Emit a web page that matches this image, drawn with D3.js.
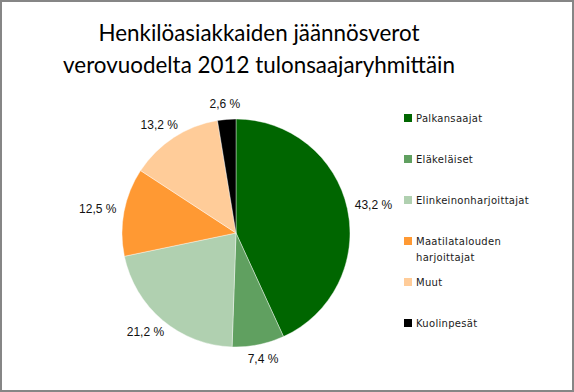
<!DOCTYPE html>
<html>
<head>
<meta charset="utf-8">
<script src="https://cdn.jsdelivr.net/npm/d3@7"></script>
<style>
body { margin: 0; background: #fff; }
svg { display: block; }
</style>
</head>
<body>
<div id="main"></div>
<script>
var categories = ['Palkansaajat', 'Eläkeläiset', 'Elinkeinonharjoittajat',
    'Maatilatalouden harjoittajat', 'Muut', 'Kuolinpesät'];
var values = [43.2, 7.4, 21.2, 12.5, 13.2, 2.6];
var labels = ['43,2 %', '7,4 %', '21,2 %', '12,5 %', '13,2 %', '2,6 %'];
var legendLines = [['Palkansaajat'], ['Eläkeläiset'], ['Elinkeinonharjoittajat'],
    ['Maatilatalouden', 'harjoittajat'], ['Muut'], ['Kuolinpesät']];
var colors = ['#006600', '#60a060', '#b0d0b0', '#ff9933', '#ffcc99', '#000000'];
var titleLines = ['Henkilöasiakkaiden jäännösverot', 'verovuodelta 2012 tulonsaajaryhmittäin'];

var width = 574, height = 392;
var svg = d3.select('#main').append('svg')
    .attr('width', width)
    .attr('height', height);

// chart frame
svg.append('rect')
    .attr('x', 1).attr('y', 1)
    .attr('width', width - 2).attr('height', height - 2)
    .attr('fill', '#fff')
    .attr('stroke', '#868686')
    .attr('stroke-width', 2);

// title
svg.append('g').selectAll('text')
    .data(titleLines)
    .enter()
    .append('text')
    .attr('x', 259)
    .attr('y', function(d, i) { return 41 + i * 32; })
    .attr('text-anchor', 'middle')
    .style('font-family', 'Lato, "Open Sans", sans-serif')
    .style('font-size', '22.4px')
    .style('fill', '#000')
    .text(function(d) { return d; });

// pie
var cx = 236, cy = 233, radius = 114;
var colorScale = d3.scaleOrdinal().domain(categories).range(colors);
var pie = d3.pie().sort(null).value(function(d) { return d.value; });
var arc = d3.arc().innerRadius(0).outerRadius(radius);

var data = categories.map(function(c, i) {
    return {name: c, value: values[i], label: labels[i]};
});
var arcs = pie(data);

var chart = svg.append('g')
    .attr('transform', 'translate(' + [cx, cy] + ')');

chart.selectAll('path')
    .data(arcs)
    .enter()
    .append('path')
    .attr('d', arc)
    .attr('fill', function(d) { return colorScale(d.data.name); })
    .attr('stroke', '#fff')
    .attr('stroke-width', 0.4);

// data labels, placed just outside the slice
var labelG = chart.selectAll('.lbl')
    .data(arcs)
    .enter()
    .append('text')
    .attr('class', 'lbl')
    .style('font-family', '"Liberation Sans", Arial, sans-serif')
    .style('font-size', '12px')
    .style('fill', '#111')
    .attr('text-anchor', 'middle')
    .attr('dominant-baseline', 'central')
    .text(function(d) { return d.data.label; });

labelG.each(function(d) {
    var a = (d.startAngle + d.endAngle) / 2;
    var w = this.getComputedTextLength();
    var r0 = radius + 8;
    var px = Math.sin(a) * r0, py = -Math.cos(a) * r0;
    d3.select(this)
        .attr('x', px + Math.sin(a) * w / 2)
        .attr('y', py - Math.cos(a) * 7);
});

// legend
var legendY = d3.scaleBand().domain(categories).range([97.5, 343.5]);
var leg = svg.append('g').selectAll('g')
    .data(categories)
    .enter()
    .append('g')
    .attr('transform', function(d) {
        return 'translate(404,' + (legendY(d) + legendY.bandwidth() / 2) + ')';
    });

leg.append('rect')
    .attr('x', 0).attr('y', -4)
    .attr('width', 8).attr('height', 8)
    .attr('fill', function(d) { return colorScale(d); });

leg.each(function(d, i) {
    var t = d3.select(this).append('text')
        .style('font-family', '"DejaVu Sans", Verdana, sans-serif')
        .style('font-size', '10px')
        .style('letter-spacing', '0.3px')
        .style('fill', '#1a1a1a')
        .attr('x', 12)
        .attr('y', 4);
    legendLines[i].forEach(function(line, j) {
        t.append('tspan')
            .attr('x', 12)
            .attr('dy', j === 0 ? 0 : 16)
            .text(line);
    });
});
</script>
</body>
</html>
